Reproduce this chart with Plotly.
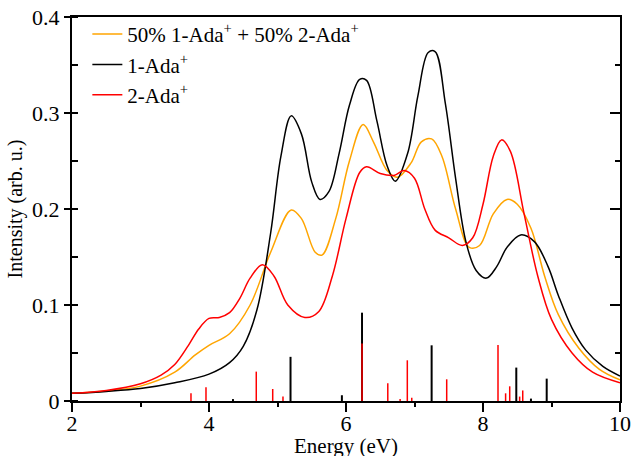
import plotly.graph_objects as go

# Curves
black_E = [2.0, 2.5, 3.0, 3.5, 4.0, 4.3, 4.5, 4.7, 4.9, 5.05, 5.2, 5.35, 5.5, 5.62, 5.75, 5.9, 6.05, 6.2, 6.3, 6.45, 6.6, 6.72, 6.9, 7.05, 7.2, 7.3, 7.45, 7.6, 7.75, 7.9, 8.05, 8.2, 8.35, 8.55, 8.75, 8.95, 9.1, 9.3, 9.5, 9.75, 10.0]
black_I = [0.008, 0.010, 0.013, 0.019, 0.028, 0.040, 0.057, 0.095, 0.175, 0.255, 0.297, 0.278, 0.228, 0.210, 0.218, 0.258, 0.308, 0.335, 0.334, 0.292, 0.245, 0.229, 0.258, 0.318, 0.363, 0.364, 0.310, 0.232, 0.166, 0.136, 0.128, 0.140, 0.160, 0.173, 0.166, 0.140, 0.110, 0.076, 0.053, 0.036, 0.026]

red_E = [2.0, 2.5, 3.0, 3.3, 3.5, 3.7, 3.85, 4.0, 4.15, 4.3, 4.45, 4.6, 4.78, 4.95, 5.15, 5.4, 5.6, 5.8, 6.0, 6.2, 6.3, 6.5, 6.7, 6.85, 7.0, 7.15, 7.3, 7.5, 7.7, 7.85, 8.0, 8.15, 8.27, 8.4, 8.6, 8.8, 9.0, 9.3, 9.6, 10.0]
red_I = [0.008, 0.011, 0.018, 0.027, 0.038, 0.058, 0.075, 0.086, 0.087, 0.092, 0.107, 0.128, 0.142, 0.130, 0.100, 0.087, 0.093, 0.130, 0.190, 0.238, 0.244, 0.237, 0.235, 0.240, 0.232, 0.200, 0.178, 0.170, 0.162, 0.170, 0.205, 0.255, 0.272, 0.260, 0.195, 0.130, 0.085, 0.050, 0.030, 0.019]

orange_E = [2.0, 2.5, 3.0, 3.5, 3.8, 4.0, 4.3, 4.6, 4.9, 5.2, 5.35, 5.55, 5.65, 5.85, 6.05, 6.25, 6.4, 6.6, 6.75, 6.95, 7.1, 7.25, 7.4, 7.6, 7.8, 7.95, 8.15, 8.35, 8.5, 8.7, 8.9, 9.1, 9.4, 9.7, 10.0]
orange_I = [0.008, 0.0105, 0.0155, 0.030, 0.048, 0.058, 0.070, 0.100, 0.155, 0.199, 0.190, 0.155, 0.152, 0.190, 0.250, 0.288, 0.270, 0.240, 0.233, 0.248, 0.270, 0.273, 0.255, 0.200, 0.160, 0.162, 0.195, 0.210, 0.205, 0.180, 0.130, 0.090, 0.055, 0.033, 0.022]

# Stick spectra
black_stick_E = [4.35, 5.19, 5.94, 6.234, 7.25, 8.486, 8.70, 8.93]
black_stick_I = [0.002, 0.046, 0.006, 0.092, 0.058, 0.0348, 0.0025, 0.0233]
red_stick_E = [3.737, 3.956, 4.69, 4.93, 5.08, 6.234, 6.61, 6.79, 6.895, 6.96, 7.47, 8.219, 8.33, 8.39, 8.535, 8.58]
red_stick_I = [0.008, 0.0143, 0.0306, 0.0125, 0.0046, 0.060, 0.0184, 0.002, 0.0424, 0.0035, 0.0226, 0.0584, 0.008, 0.0153, 0.0046, 0.011]

x_ticks = [2, 4, 6, 8, 10]
y_ticks = [0, 0.1, 0.2, 0.3, 0.4]
y_tick_text = ["0", "0.1", "0.2", "0.3", "0.4"]

ORANGE = "#FFA500"
RED = "#FF0000"
BLACK = "#000000"
FONT = "Liberation Serif, DejaVu Serif, serif"


def sticks(E, I):
    xs, ys = [], []
    for e, h in zip(E, I):
        xs += [e, e, None]
        ys += [0, h, None]
    return xs, ys


fig = go.Figure()

bx, by = sticks(black_stick_E, black_stick_I)
fig.add_trace(go.Scatter(x=bx, y=by, mode="lines", line=dict(color=BLACK, width=2), showlegend=False, hoverinfo="skip"))
rx, ry = sticks(red_stick_E, red_stick_I)
fig.add_trace(go.Scatter(x=rx, y=ry, mode="lines", line=dict(color=RED, width=1.5), showlegend=False, hoverinfo="skip"))

fig.add_trace(go.Scatter(x=orange_E, y=orange_I, mode="lines", line=dict(color=ORANGE, width=1.5, shape="spline"),
                         name="50% 1-Ada<sup>+</sup> + 50% 2-Ada<sup>+</sup>"))
fig.add_trace(go.Scatter(x=black_E, y=black_I, mode="lines", line=dict(color=BLACK, width=1.5, shape="spline"),
                         name="1-Ada<sup>+</sup>"))
fig.add_trace(go.Scatter(x=red_E, y=red_I, mode="lines", line=dict(color=RED, width=1.5, shape="spline"),
                         name="2-Ada<sup>+</sup>"))

# invisible trace on overlay axes (used for tick marks on bottom and right)
fig.add_trace(go.Scatter(x=[2, 10], y=[0, 0.4], xaxis="x2", yaxis="y2", mode="lines", line=dict(width=0),
                         showlegend=False, hoverinfo="skip", opacity=0))

fig.update_layout(
    width=634, height=456,
    margin=dict(l=72, r=14, t=17, b=55, autoexpand=False),
    paper_bgcolor="white", plot_bgcolor="white",
    font=dict(family=FONT, size=20, color="black"),
    showlegend=True,
    legend=dict(x=0.028, y=1.008, xanchor="left", yanchor="top", bgcolor="rgba(0,0,0,0)",
                font=dict(family=FONT, size=21), tracegroupgap=0, itemwidth=30),
    # main x axis: labels only (transparent short ticks set label distance)
    xaxis=dict(range=[2, 10], tickvals=x_ticks, showgrid=False, zeroline=False, automargin=False,
               showline=True, linecolor="black", linewidth=2, mirror=True,
               ticks="outside", ticklen=2, tickcolor="rgba(0,0,0,0)",
               tickfont=dict(family=FONT, size=22)),
    # overlay x axis: visible tick marks
    xaxis2=dict(range=[2, 10], overlaying="x", anchor="y", side="bottom", tickvals=x_ticks,
                showticklabels=False, showgrid=False, zeroline=False, automargin=False, showline=False,
                ticks="outside", ticklen=10, tickwidth=1.5, tickcolor="black",
                minor=dict(dtick=1, ticks="outside", ticklen=5, tickwidth=1.5, tickcolor="black", showgrid=False)),
    yaxis=dict(range=[0, 0.4], tickvals=y_ticks, ticktext=y_tick_text, showgrid=False, zeroline=False, automargin=False,
               showline=True, linecolor="black", linewidth=2,
               ticks="outside", ticklen=6, tickwidth=1.5, tickcolor="black",
               minor=dict(dtick=0.05, ticks="inside", ticklen=6, tickwidth=1.5, tickcolor="black", showgrid=False),
               title=dict(text="Intensity (arb. u.)", font=dict(family=FONT, size=20), standoff=4),
               tickfont=dict(family=FONT, size=22)),
    yaxis2=dict(range=[0, 0.4], overlaying="y", side="right", anchor="x", showgrid=False, zeroline=False, automargin=False,
                showline=True, linecolor="black", linewidth=2, showticklabels=False,
                tickvals=y_ticks, ticks="inside", ticklen=10, tickwidth=1.5, tickcolor="black",
                minor=dict(dtick=0.05, ticks="inside", ticklen=5, tickwidth=1.5, tickcolor="black", showgrid=False)),
    annotations=[dict(text="Energy (eV)", xref="paper", yref="paper", x=0.5, y=-0.118,
                      xanchor="center", yanchor="middle", showarrow=False,
                      font=dict(family=FONT, size=21, color="black"))],
)

fig.write_html("out.html")
